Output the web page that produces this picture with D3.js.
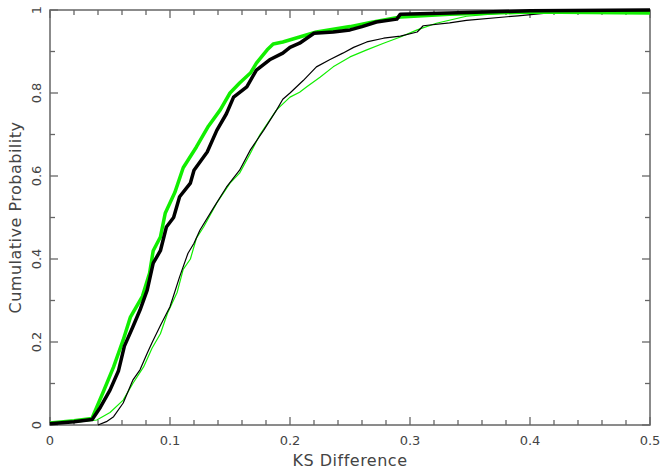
<!DOCTYPE html>
<html>
<head>
<meta charset="utf-8">
<script src="https://cdn.jsdelivr.net/npm/d3@7"></script>
<style>
  body { margin: 0; background: #fff; }
  text { font-family: "DejaVu Sans", sans-serif; fill: #444; }
</style>
</head>
<body>
<div id="container"></div>
<script>
// CONSTANTS AND GLOBALS
const width = 662,
    height = 473,
    margin = {top: 10, bottom: 48, left: 50, right: 12};

// DATA: [KS difference, cumulative probability]
const thickGreen = [[0,0.005],[0.02,0.01],[0.035,0.016],[0.037,0.03],[0.044,0.077],[0.053,0.14],[0.061,0.205],[0.067,0.26],[0.077,0.31],[0.083,0.366],[0.086,0.42],[0.092,0.453],[0.096,0.51],[0.104,0.56],[0.111,0.62],[0.122,0.67],[0.132,0.72],[0.142,0.76],[0.15,0.80],[0.158,0.824],[0.167,0.848],[0.172,0.872],[0.181,0.904],[0.186,0.918],[0.194,0.923],[0.208,0.935],[0.222,0.947],[0.25,0.96],[0.267,0.97],[0.292,0.983],[0.333,0.99],[0.40,0.995],[0.5,0.993]];

const thickBlack = [[0,0.003],[0.02,0.008],[0.035,0.013],[0.036,0.017],[0.042,0.043],[0.05,0.084],[0.057,0.13],[0.062,0.19],[0.069,0.236],[0.075,0.277],[0.081,0.325],[0.086,0.39],[0.092,0.42],[0.097,0.477],[0.103,0.50],[0.108,0.55],[0.117,0.583],[0.12,0.614],[0.131,0.658],[0.139,0.71],[0.147,0.75],[0.153,0.79],[0.164,0.815],[0.172,0.855],[0.183,0.88],[0.194,0.896],[0.20,0.91],[0.208,0.92],[0.22,0.944],[0.236,0.947],[0.25,0.952],[0.26,0.96],[0.272,0.971],[0.289,0.978],[0.292,0.99],[0.333,0.993],[0.40,0.998],[0.5,1.0]];

const thinBlack = [[0.04,0],[0.047,0.008],[0.053,0.02],[0.061,0.053],[0.069,0.108],[0.075,0.133],[0.081,0.173],[0.085,0.198],[0.092,0.240],[0.10,0.285],[0.108,0.357],[0.115,0.414],[0.12,0.438],[0.125,0.47],[0.136,0.522],[0.147,0.573],[0.158,0.614],[0.167,0.663],[0.178,0.71],[0.189,0.76],[0.194,0.785],[0.20,0.80],[0.211,0.83],[0.222,0.863],[0.233,0.88],[0.244,0.896],[0.253,0.91],[0.264,0.923],[0.278,0.932],[0.292,0.937],[0.306,0.947],[0.311,0.962],[0.333,0.969],[0.347,0.975],[0.39,0.986],[0.422,0.995],[0.5,0.997]];

const thinGreen = [[0,0.004],[0.02,0.006],[0.039,0.012],[0.05,0.03],[0.061,0.06],[0.069,0.10],[0.078,0.14],[0.085,0.185],[0.092,0.22],[0.098,0.27],[0.106,0.32],[0.111,0.375],[0.117,0.40],[0.122,0.45],[0.128,0.477],[0.139,0.535],[0.15,0.583],[0.158,0.607],[0.167,0.655],[0.175,0.70],[0.189,0.76],[0.20,0.79],[0.208,0.802],[0.214,0.815],[0.225,0.838],[0.236,0.863],[0.25,0.887],[0.264,0.904],[0.278,0.92],[0.292,0.935],[0.306,0.952],[0.322,0.968],[0.347,0.985],[0.375,0.992],[0.5,0.993]];

const xTicks = [0, 0.1, 0.2, 0.3, 0.4, 0.5];
const yTicks = [0, 0.2, 0.4, 0.6, 0.8, 1];

// SCALES
const xScale = d3.scaleLinear()
  .domain([0, 0.5])
  .range([margin.left, width - margin.right]);

const yScale = d3.scaleLinear()
  .domain([0, 1])
  .range([height - margin.bottom, margin.top]);

const svg = d3.select("#container")
  .append("svg")
  .attr("width", width)
  .attr("height", height);

const axisColor = "#666";

// frame
svg.append("rect")
  .attr("x", xScale(0))
  .attr("y", yScale(1))
  .attr("width", xScale(0.5) - xScale(0))
  .attr("height", yScale(0) - yScale(1))
  .attr("fill", "none")
  .attr("stroke", axisColor)
  .attr("stroke-width", 1.5);

// ticks on all four sides, pointing inward
const xMinor = d3.range(0, 0.5001, 0.02);
const yMinor = d3.range(0, 1.0001, 0.1);
const isMajorX = v => Math.abs(v * 10 - Math.round(v * 10)) < 1e-6;
const isMajorY = v => Math.abs(v * 5 - Math.round(v * 5)) < 1e-6;

const tickG = svg.append("g").attr("stroke", axisColor).attr("stroke-width", 1.3);

[yScale(0), yScale(1)].forEach((y0, i) => {
  const dir = i === 0 ? -1 : 1;
  tickG.selectAll(null)
    .data(xMinor)
    .join("line")
    .attr("x1", d => xScale(d)).attr("x2", d => xScale(d))
    .attr("y1", y0)
    .attr("y2", d => y0 + dir * (isMajorX(d) ? 8 : 5));
});

[xScale(0), xScale(0.5)].forEach((x0, i) => {
  const dir = i === 0 ? 1 : -1;
  tickG.selectAll(null)
    .data(yMinor)
    .join("line")
    .attr("y1", d => yScale(d)).attr("y2", d => yScale(d))
    .attr("x1", x0)
    .attr("x2", d => x0 + dir * (isMajorY(d) ? 8 : 5));
});

// tick labels
svg.selectAll("text.xTick")
  .data(xTicks)
  .join("text")
  .attr("class", "xTick")
  .attr("x", d => xScale(d))
  .attr("y", yScale(0) + 20)
  .attr("text-anchor", "middle")
  .attr("font-size", 13)
  .text(d => d === 0 ? "0" : d3.format(".1f")(d));

svg.selectAll("text.yTick")
  .data(yTicks)
  .join("text")
  .attr("class", "yTick")
  .attr("transform", d => `translate(${xScale(0) - 9}, ${yScale(d)}) rotate(-90)`)
  .attr("text-anchor", "middle")
  .attr("font-size", 13)
  .text(d => (d === 0 || d === 1) ? String(d) : d3.format(".1f")(d));

// axis titles
svg.append("text")
  .attr("x", (xScale(0) + xScale(0.5)) / 2)
  .attr("y", height - 7)
  .attr("text-anchor", "middle")
  .attr("font-size", 16)
  .attr("letter-spacing", 0.5)
  .text("KS Difference");

svg.append("text")
  .attr("transform", `translate(21, ${(yScale(0) + yScale(1)) / 2}) rotate(-90)`)
  .attr("text-anchor", "middle")
  .attr("font-size", 16)
  .attr("letter-spacing", 0.5)
  .text("Cumulative Probability");

// LINES
const lineGen = d3.line()
  .x(d => xScale(d[0]))
  .y(d => yScale(d[1]));

const series = [
  {data: thinGreen, color: "#11ee00", w: 1.2},
  {data: thinBlack, color: "#000", w: 1.2},
  {data: thickGreen, color: "#11ee00", w: 3.5},
  {data: thickBlack, color: "#000", w: 3.5}
];

svg.selectAll("path.line")
  .data(series)
  .join("path")
  .attr("class", "line")
  .attr("fill", "none")
  .attr("stroke", d => d.color)
  .attr("stroke-width", d => d.w)
  .attr("stroke-linejoin", "round")
  .attr("d", d => lineGen(d.data));
</script>
</body>
</html>
